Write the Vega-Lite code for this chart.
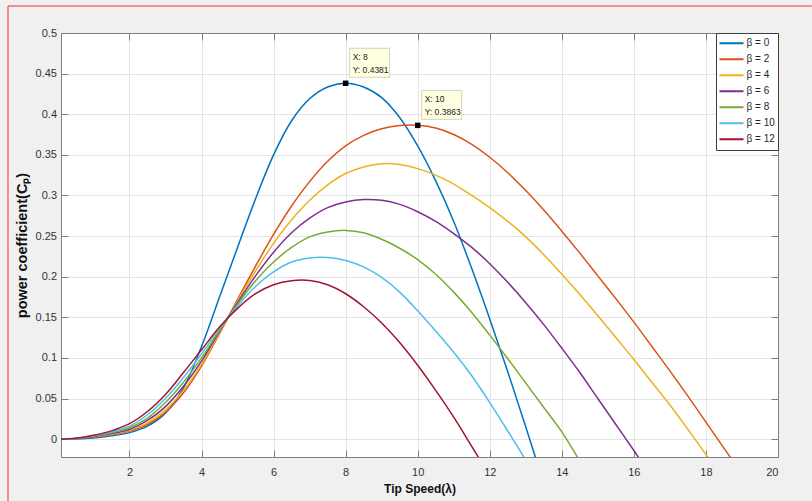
{
  "$schema": "https://vega.github.io/schema/vega-lite/v6.json",
  "width": 717,
  "height": 424,
  "autosize": {"type": "none"},
  "padding": {"left": 61, "top": 33, "right": 34, "bottom": 44},
  "background": "#f0f0f0",
  "config": {
    "view": {"stroke": null, "fill": "white"},
    "font": "Liberation Sans"
  },
  "datasets": {
    "curves": [
      {"lambda": 0.1, "b0": 0, "b2": 0, "b4": 0, "b6": 0, "b8": 0, "b10": 0, "b12": 0},
      {"lambda": 0.5, "b0": 0.0003, "b2": 0.0005, "b4": 0.0006, "b6": 0.0007, "b8": 0.0008, "b10": 0.0009, "b12": 0.001},
      {"lambda": 1.0, "b0": 0.0015, "b2": 0.0025, "b4": 0.003, "b6": 0.0033, "b8": 0.0037, "b10": 0.0042, "b12": 0.0048},
      {"lambda": 1.5, "b0": 0.004, "b2": 0.0055, "b4": 0.006, "b6": 0.0068, "b8": 0.0077, "b10": 0.0088, "b12": 0.0102},
      {"lambda": 2.0, "b0": 0.008, "b2": 0.010, "b4": 0.011, "b6": 0.012, "b8": 0.014, "b10": 0.016, "b12": 0.019},
      {"lambda": 2.5, "b0": 0.016, "b2": 0.018, "b4": 0.020, "b6": 0.023, "b8": 0.026, "b10": 0.030, "b12": 0.034},
      {"lambda": 3.0, "b0": 0.032, "b2": 0.033, "b4": 0.036, "b6": 0.040, "b8": 0.045, "b10": 0.050, "b12": 0.055},
      {"lambda": 3.5, "b0": 0.063, "b2": 0.057, "b4": 0.060, "b6": 0.065, "b8": 0.070, "b10": 0.076, "b12": 0.082},
      {"lambda": 4.0, "b0": 0.114, "b2": 0.090, "b4": 0.092, "b6": 0.096, "b8": 0.100, "b10": 0.105, "b12": 0.110},
      {"lambda": 4.5, "b0": 0.175, "b2": 0.130, "b4": 0.131, "b6": 0.133, "b8": 0.134, "b10": 0.136, "b12": 0.138},
      {"lambda": 5.0, "b0": 0.236, "b2": 0.172, "b4": 0.170, "b6": 0.168, "b8": 0.166, "b10": 0.164, "b12": 0.161},
      {"lambda": 5.5, "b0": 0.296, "b2": 0.213, "b4": 0.207, "b6": 0.201, "b8": 0.195, "b10": 0.188, "b12": 0.179},
      {"lambda": 6.0, "b0": 0.350, "b2": 0.252, "b4": 0.241, "b6": 0.230, "b8": 0.218, "b10": 0.206, "b12": 0.190},
      {"lambda": 6.5, "b0": 0.392, "b2": 0.287, "b4": 0.270, "b6": 0.254, "b8": 0.236, "b10": 0.218, "b12": 0.195},
      {"lambda": 7.0, "b0": 0.419, "b2": 0.317, "b4": 0.294, "b6": 0.272, "b8": 0.249, "b10": 0.223, "b12": 0.1953},
      {"lambda": 7.5, "b0": 0.4335, "b2": 0.342, "b4": 0.313, "b6": 0.285, "b8": 0.255, "b10": 0.2235, "b12": 0.190},
      {"lambda": 8.0, "b0": 0.4381, "b2": 0.361, "b4": 0.327, "b6": 0.292, "b8": 0.257, "b10": 0.220, "b12": 0.179},
      {"lambda": 8.5, "b0": 0.4335, "b2": 0.374, "b4": 0.335, "b6": 0.295, "b8": 0.254, "b10": 0.212, "b12": 0.163},
      {"lambda": 9.0, "b0": 0.4205, "b2": 0.382, "b4": 0.339, "b6": 0.294, "b8": 0.246, "b10": 0.199, "b12": 0.143},
      {"lambda": 9.5, "b0": 0.396, "b2": 0.386, "b4": 0.338, "b6": 0.289, "b8": 0.235, "b10": 0.181, "b12": 0.119},
      {"lambda": 10.0, "b0": 0.361, "b2": 0.3863, "b4": 0.333, "b6": 0.280, "b8": 0.221, "b10": 0.158, "b12": 0.091},
      {"lambda": 10.5, "b0": 0.318, "b2": 0.383, "b4": 0.325, "b6": 0.268, "b8": 0.203, "b10": 0.133, "b12": 0.060},
      {"lambda": 11.0, "b0": 0.268, "b2": 0.375, "b4": 0.314, "b6": 0.253, "b8": 0.181, "b10": 0.107, "b12": 0.027},
      {"lambda": 11.5, "b0": 0.210, "b2": 0.363, "b4": 0.300, "b6": 0.236, "b8": 0.156, "b10": 0.078, "b12": -0.009},
      {"lambda": 12.0, "b0": 0.148, "b2": 0.347, "b4": 0.285, "b6": 0.216, "b8": 0.128, "b10": 0.045, "b12": -0.045},
      {"lambda": 12.5, "b0": 0.083, "b2": 0.328, "b4": 0.268, "b6": 0.193, "b8": 0.099, "b10": 0.010, "b12": null},
      {"lambda": 13.0, "b0": 0.015, "b2": 0.306, "b4": 0.249, "b6": 0.168, "b8": 0.069, "b10": -0.026, "b12": null},
      {"lambda": 13.5, "b0": -0.055, "b2": 0.282, "b4": 0.227, "b6": 0.141, "b8": 0.039, "b10": -0.062, "b12": null},
      {"lambda": 14.0, "b0": null, "b2": 0.256, "b4": 0.203, "b6": 0.112, "b8": 0.009, "b10": null, "b12": null},
      {"lambda": 14.5, "b0": null, "b2": 0.229, "b4": 0.178, "b6": 0.082, "b8": -0.027, "b10": null, "b12": null},
      {"lambda": 15.0, "b0": null, "b2": 0.201, "b4": 0.152, "b6": 0.050, "b8": -0.063, "b10": null, "b12": null},
      {"lambda": 15.5, "b0": null, "b2": 0.173, "b4": 0.125, "b6": 0.018, "b8": null, "b10": null, "b12": null},
      {"lambda": 16.0, "b0": null, "b2": 0.144, "b4": 0.098, "b6": -0.014, "b8": null, "b10": null, "b12": null},
      {"lambda": 16.5, "b0": null, "b2": 0.114, "b4": 0.070, "b6": -0.047, "b8": null, "b10": null, "b12": null},
      {"lambda": 17.0, "b0": null, "b2": 0.084, "b4": 0.042, "b6": null, "b8": null, "b10": null, "b12": null},
      {"lambda": 17.5, "b0": null, "b2": 0.053, "b4": 0.012, "b6": null, "b8": null, "b10": null, "b12": null},
      {"lambda": 18.0, "b0": null, "b2": 0.021, "b4": -0.019, "b6": null, "b8": null, "b10": null, "b12": null},
      {"lambda": 18.5, "b0": null, "b2": -0.011, "b4": -0.050, "b6": null, "b8": null, "b10": null, "b12": null},
      {"lambda": 19.0, "b0": null, "b2": -0.043, "b4": null, "b6": null, "b8": null, "b10": null, "b12": null}
    ],
    "tips": [
      {"lambda": 8, "cp": 0.4381, "tx": "X: 8", "ty": "Y: 0.4381"},
      {"lambda": 10, "cp": 0.3863, "tx": "X: 10", "ty": "Y: 0.3863"}
    ]
  },
  "resolve": {"axis": {"x": "independent", "y": "independent"}},
  "layer": [
    {
      "data": {"values": [{}]},
      "mark": {"type": "rule", "color": "#ff2a2a", "strokeWidth": 1},
      "encoding": {
        "x": {"datum": -1.371, "type": "quantitative", "scale": {"domain": [0.1, 20], "nice": false, "zero": false}, "axis": null},
        "y": {"datum": 0.5332, "type": "quantitative", "scale": {"domain": [-0.022, 0.5], "nice": false, "zero": false}, "axis": null},
        "y2": {"datum": -0.0762}
      }
    },
    {
      "data": {"values": [{}]},
      "mark": {"type": "rule", "color": "#ff2a2a", "strokeWidth": 1},
      "encoding": {
        "x": {"datum": -1.371, "type": "quantitative", "scale": {"domain": [0.1, 20], "nice": false, "zero": false}, "axis": null},
        "x2": {"datum": 20.94},
        "y": {"datum": 0.5332, "type": "quantitative", "scale": {"domain": [-0.022, 0.5], "nice": false, "zero": false}, "axis": null}
      }
    },
    {
      "data": {"name": "curves"},
      "transform": [
        {"fold": ["b0", "b2", "b4", "b6", "b8", "b10", "b12"], "as": ["beta", "cp"]},
        {"filter": "datum.cp != null"}
      ],
      "mark": {"type": "line", "strokeWidth": 1.5, "clip": true, "interpolate": "catmull-rom"},
      "encoding": {
        "x": {
          "field": "lambda", "type": "quantitative",
          "scale": {"domain": [0.1, 20], "nice": false, "zero": false},
          "axis": {
            "orient": "bottom", "values": [2, 4, 6, 8, 10, 12, 14, 16, 18, 20], "format": "~g",
            "grid": true, "gridColor": "#e4e4e4", "gridWidth": 1,
            "domainColor": "#808080", "tickColor": "#808080", "tickSize": -7,
            "labelPadding": 16, "labelFont": "Liberation Sans", "labelFontSize": 11, "labelColor": "#333333",
            "title": "Tip Speed(λ)", "titleFont": "Liberation Sans", "titleFontSize": 12, "titleFontWeight": "bold",
            "titleColor": "#111111", "titlePadding": 6
          }
        },
        "y": {
          "field": "cp", "type": "quantitative",
          "scale": {"domain": [-0.022, 0.5], "nice": false, "zero": false},
          "axis": {
            "orient": "left", "values": [0, 0.05, 0.1, 0.15, 0.2, 0.25, 0.3, 0.35, 0.4, 0.45, 0.5], "format": "~g",
            "grid": true, "gridColor": "#e4e4e4", "gridWidth": 1,
            "domainColor": "#808080", "tickColor": "#808080", "tickSize": -7,
            "labelPadding": 11.5, "labelFont": "Liberation Sans", "labelFontSize": 11, "labelColor": "#333333",
            "title": "power coefficient(Cₚ)", "titleFont": "Liberation Sans", "titleFontSize": 14.5, "titleFontWeight": "bold",
            "titleColor": "#111111", "titlePadding": 6
          }
        },
        "color": {
          "field": "beta", "type": "nominal",
          "scale": {
            "domain": ["b0", "b2", "b4", "b6", "b8", "b10", "b12"],
            "range": ["#0072BD", "#D95319", "#EDB120", "#7E2F8E", "#77AC30", "#4DBEEE", "#A2142F"]
          },
          "legend": {
            "orient": "top-right", "offset": 0, "title": null,
            "fillColor": "white", "strokeColor": "#3c3c3c", "padding": 2.5,
            "symbolType": "stroke", "symbolSize": 576, "symbolStrokeWidth": 2,
            "labelFont": "Liberation Sans", "labelFontSize": 10, "labelColor": "#262626", "labelOffset": 2,
            "clipHeight": 15.6, "rowPadding": 0,
            "labelExpr": "'β = ' + slice(datum.label, 1)"
          }
        }
      }
    },
    {
      "data": {"name": "tips"},
      "mark": {"type": "point", "shape": "M4,-35H44V-6H4Z", "size": 4, "filled": true, "fill": "#ffffe1", "stroke": "#d4d4bc", "strokeWidth": 1, "opacity": 1},
      "encoding": {
        "x": {
          "field": "lambda", "type": "quantitative",
          "scale": {"domain": [0.1, 20], "nice": false, "zero": false},
          "axis": {"orient": "top", "values": [2, 4, 6, 8, 10, 12, 14, 16, 18, 20], "labels": false, "grid": false, "title": null, "domainColor": "#808080", "tickColor": "#808080", "tickSize": -7}
        },
        "y": {
          "field": "cp", "type": "quantitative",
          "scale": {"domain": [-0.022, 0.5], "nice": false, "zero": false},
          "axis": {"orient": "right", "values": [0, 0.05, 0.1, 0.15, 0.2, 0.25, 0.3, 0.35, 0.4, 0.45, 0.5], "labels": false, "grid": false, "title": null, "domainColor": "#808080", "tickColor": "#808080", "tickSize": -7}
        }
      }
    },
    {
      "data": {"name": "tips"},
      "mark": {"type": "point", "shape": "square", "size": 30, "filled": true, "color": "black", "opacity": 1},
      "encoding": {
        "x": {"field": "lambda", "type": "quantitative", "scale": {"domain": [0.1, 20], "nice": false, "zero": false}, "axis": null},
        "y": {"field": "cp", "type": "quantitative", "scale": {"domain": [-0.022, 0.5], "nice": false, "zero": false}, "axis": null}
      }
    },
    {
      "data": {"name": "tips"},
      "mark": {"type": "text", "align": "left", "baseline": "middle", "dx": 7, "dy": -26, "fontSize": 8.5, "font": "Liberation Sans", "color": "#222222"},
      "encoding": {
        "x": {"field": "lambda", "type": "quantitative", "scale": {"domain": [0.1, 20], "nice": false, "zero": false}, "axis": null},
        "y": {"field": "cp", "type": "quantitative", "scale": {"domain": [-0.022, 0.5], "nice": false, "zero": false}, "axis": null},
        "text": {"field": "tx"}
      }
    },
    {
      "data": {"name": "tips"},
      "mark": {"type": "text", "align": "left", "baseline": "middle", "dx": 7, "dy": -13, "fontSize": 8.5, "font": "Liberation Sans", "color": "#222222"},
      "encoding": {
        "x": {"field": "lambda", "type": "quantitative", "scale": {"domain": [0.1, 20], "nice": false, "zero": false}, "axis": null},
        "y": {"field": "cp", "type": "quantitative", "scale": {"domain": [-0.022, 0.5], "nice": false, "zero": false}, "axis": null},
        "text": {"field": "ty"}
      }
    }
  ]
}
